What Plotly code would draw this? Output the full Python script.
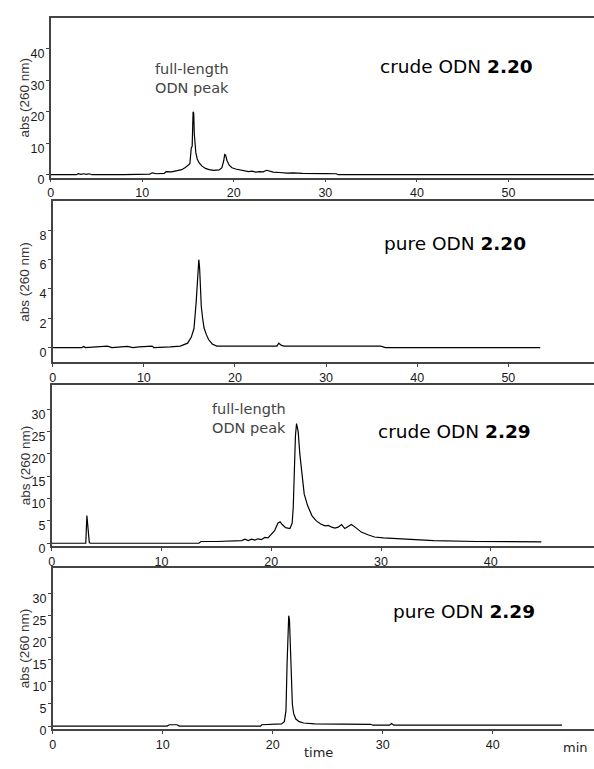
import plotly.graph_objects as go

# ---------------- data ----------------
# Panel 1: crude ODN 2.20
t_crude220 = [0, 2.8, 3.0, 3.3, 3.6, 3.9, 4.2, 4.5, 8, 10.8, 11.1, 11.5, 12.4, 12.6, 13.2, 13.8,
              14.3, 14.7, 15.0, 15.2, 15.35, 15.45, 15.55, 15.62, 15.68, 15.75, 15.85, 16.0, 16.2,
              16.5, 16.9, 17.3, 17.8, 18.4, 18.7, 18.9, 19.0, 19.1, 19.25, 19.5, 19.8, 20.2, 20.6,
              21.2, 21.6, 22.0, 22.4, 22.8, 23.2, 23.6, 23.9, 24.3, 25.0, 25.8, 26.5, 27.3, 27.5,
              30.0, 31.2, 31.4, 40, 50, 59.3]
a_crude220 = [0, 0, 0.3, 0.1, 0.3, 0.1, 0.3, 0, 0, 0.2, 0.6, 0.3, 0.4, 1.0, 0.9, 1.2,
              1.6, 2.3, 3.0, 3.5, 8.5, 9.0, 20.0, 19.5, 13.0, 10.0, 7.0, 5.0, 3.8,
              2.8, 2.0, 1.6, 1.4, 1.5, 2.2, 4.5, 6.4, 6.2, 4.5, 3.0, 2.2, 1.8, 1.5,
              1.2, 1.0, 1.1, 0.8, 1.0, 0.9, 1.4, 1.2, 0.8, 0.7, 0.5, 0.6, 0.5, 0.4,
              0.35, 0.3, 0, 0, 0, 0]

# Panel 2: pure ODN 2.20
t_pure220 = [0, 3.2, 3.4, 3.6, 6.0, 6.2, 6.5, 8.2, 8.5, 8.8, 9.5, 10.9, 11.1, 11.4, 12.9, 14.0,
             14.8, 15.2, 15.5, 15.74, 15.9, 16.03, 16.12, 16.2, 16.3, 16.45, 16.6, 16.85, 17.1,
             17.5, 18.0, 24.6, 24.8, 25.1, 25.4, 30, 36.0, 36.5, 45, 53.5]
a_pure220 = [0, 0, 0.08, 0, 0.1, 0.05, 0, 0.08, 0.05, 0, 0.05, 0.1, 0, 0, 0.05, 0.1,
             0.3, 0.7, 1.3, 3.1, 5.0, 6.0, 5.4, 3.8, 2.8, 2.0, 1.35, 0.9, 0.55,
             0.25, 0.1, 0.1, 0.3, 0.15, 0.1, 0.1, 0.1, 0, 0, 0]

# Panel 3: crude ODN 2.29
t_crude229 = [0, 3.1, 3.2, 3.27, 3.33, 3.42, 3.5, 13.4, 13.6, 15, 17.3, 17.6, 17.9, 18.2, 18.5,
              18.8, 19.1, 19.4, 19.7, 20.0, 20.3, 20.6, 20.8, 21.0, 21.3, 21.7, 21.9, 22.0, 22.1,
              22.2, 22.3, 22.45, 22.6, 22.8, 23.0, 23.3, 23.7, 24.1, 24.5, 24.9, 25.2, 25.5, 25.8,
              26.1, 26.4, 26.7, 27.0, 27.3, 27.7, 28.2, 28.8, 29.4, 30.2, 30.9, 32.7, 34.8, 38.7,
              44.6]
a_crude229 = [0, 0, 6.2, 4.0, 1.5, 0.2, 0, 0, 0.4, 0.4, 0.6, 0.9, 0.6, 0.9, 0.7,
              1.0, 0.8, 1.3, 1.2, 2.0, 2.8, 4.5, 4.8, 4.2, 3.5, 3.3, 4.5, 8.0, 17.0,
              24.0, 26.8, 25.0, 20.0, 15.0, 11.0, 8.5, 6.2, 5.0, 4.3, 3.9, 4.0, 3.6, 3.4,
              3.6, 4.2, 3.3, 3.8, 4.2, 3.5, 2.5, 1.9, 1.4, 1.2, 1.1, 0.8, 0.6, 0.4,
              0.3]

# Panel 4: pure ODN 2.29
t_pure229 = [0, 10.4, 10.6, 11.3, 11.5, 18.9, 19.0, 19.9, 20.8, 21.05, 21.2, 21.3, 21.38, 21.45,
             21.52, 21.6, 21.68, 21.78, 21.9, 22.1, 22.4, 22.8, 23.8, 28.9, 29.1, 30.6, 30.8,
             31.0, 46.3]
a_pure229 = [0, 0, 0.3, 0.3, 0, 0, 0.3, 0.4, 0.5, 1.0, 3.5, 14.0, 22.0, 25.0,
             24.0, 19.0, 10.0, 5.0, 2.8, 1.6, 1.0, 0.7, 0.5, 0.4, 0.2, 0.2, 0.6,
             0.2, 0.2]

panel_titles = ["crude ODN <b>2.20</b>", "pure ODN <b>2.20</b>",
                "crude ODN <b>2.29</b>", "pure ODN <b>2.29</b>"]
y_ticks = [[0, 10, 20, 30, 40], [0, 2, 4, 6, 8],
           [0, 5, 10, 15, 20, 25, 30], [0, 5, 10, 15, 20, 25, 30]]
x_ticks = [[0, 10, 20, 30, 40, 50], [0, 10, 20, 30, 40, 50],
           [0, 10, 20, 30, 40], [0, 10, 20, 30, 40]]
peak_label = "full-length<br>ODN peak"
y_title = "abs (260 nm)"

series = [(t_crude220, a_crude220), (t_pure220, a_pure220),
          (t_crude229, a_crude229), (t_pure229, a_pure229)]

# ---------------- layout (pixel geometry) ----------------
W, H = 594, 769
# top px, bottom px, left px, x max, y min, y max
geom = [(18, 180, 48, 59.35, -0.94, 49.8),
        (204, 367, 50, 59.4, -1.0, 9.98),
        (390, 553, 49, 49.4, -0.57, 35.45),
        (575, 739, 50, 49.2, -0.75, 35.9)]
title_pos = [(456, 67), (454, 247), (454, 437), (463, 620)]
peak_pos = {0: (151, 80), 2: (208, 424)}

def px(x):
    return x / W

def py(y):
    return 1 - y / H

fig = go.Figure()
LINEC = "#444444"
tickfont = dict(family="Liberation Sans Narrow, Arial Narrow, Liberation Sans, Arial", size=12.5, color="#1a1a1a")
annotations = []

for i, ((t, a), (top, bot, left, xmax, ymin, ymax)) in enumerate(zip(series, geom)):
    n = "" if i == 0 else str(i + 1)
    fig.add_trace(go.Scatter(x=t, y=a, mode="lines", line=dict(color="black", width=1.2),
                             xaxis="x" + n, yaxis="y" + n, showlegend=False, hoverinfo="skip"))
    fig.layout["xaxis" + n] = dict(
        domain=[px(left), 1], anchor="y" + n, range=[0, xmax],
        tickvals=x_ticks[i], ticks="outside", ticklen=3, tickcolor=LINEC,
        showline=True, linecolor=LINEC, linewidth=1.5, mirror=True,
        showgrid=False, zeroline=False, tickfont=tickfont)
    fig.layout["yaxis" + n] = dict(
        domain=[py(bot), py(top)], anchor="x" + n, range=[ymin, ymax],
        tickvals=y_ticks[i], ticks="outside", ticklen=3, tickcolor=LINEC,
        showline=True, linecolor=LINEC, linewidth=1.5,
        showgrid=False, zeroline=False, tickfont=tickfont,
        ticklabelshift=5, ticklabelstandoff=-1)
    annotations.append(dict(text=y_title, textangle=-90, xref="paper", yref="paper",
                            x=px(22), y=py((top + bot) / 2), showarrow=False,
                            xanchor="center", yanchor="middle",
                            font=dict(family="Liberation Sans, Arial", size=13.5, color="#333333")))
    tx, ty = title_pos[i]
    annotations.append(dict(text=panel_titles[i], xref="paper", yref="paper",
                            x=px(tx), y=py(ty), showarrow=False,
                            xanchor="center", yanchor="middle",
                            font=dict(family="DejaVu Sans", size=18.5, color="black")))
    if i in peak_pos:
        lx, ly = peak_pos[i]
        annotations.append(dict(text=peak_label, xref="paper", yref="paper",
                                x=px(lx), y=py(ly), showarrow=False, align="left",
                                xanchor="left", yanchor="middle",
                                font=dict(family="DejaVu Sans", size=14.5, color="#444444")))

annotations.append(dict(text="time", xref="paper", yref="paper", x=px(317), y=py(762),
                        showarrow=False, xanchor="center", yanchor="middle",
                        font=dict(family="DejaVu Sans", size=13, color="#222222")))
annotations.append(dict(text="min", xref="paper", yref="paper", x=px(575), y=py(757),
                        showarrow=False, xanchor="center", yanchor="middle",
                        font=dict(family="DejaVu Sans", size=13, color="#222222")))

fig.update_layout(width=W, height=H, margin=dict(l=0, r=0, t=0, b=0),
                  paper_bgcolor="white", plot_bgcolor="white",
                  annotations=annotations, showlegend=False)

fig.write_html("out.html", config={"displayModeBar": False},
               post_script="document.body.style.margin='0';document.body.style.overflow='hidden';")
